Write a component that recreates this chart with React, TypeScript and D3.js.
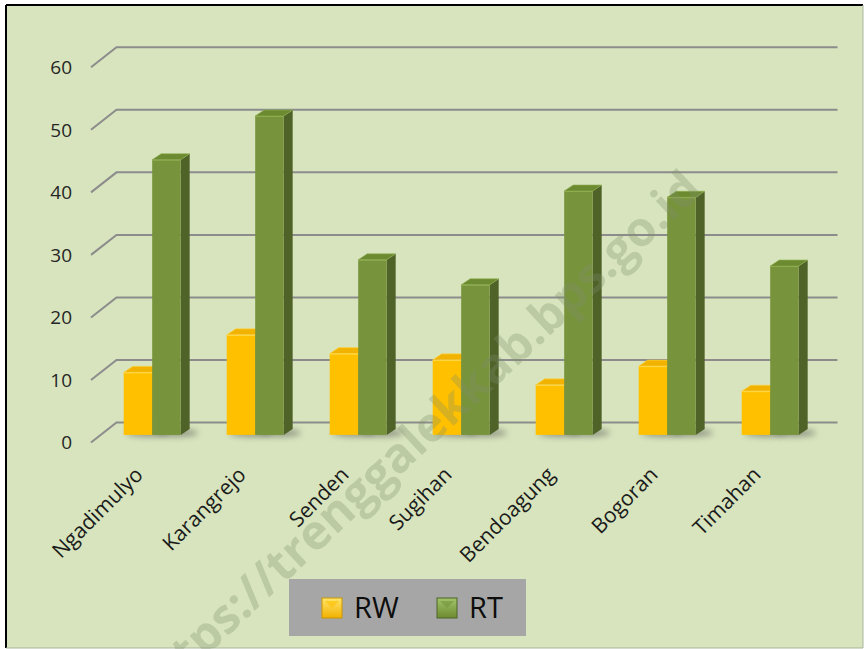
import React from "react";
import * as d3 from "d3";

const categories = ["Ngadimulyo", "Karangrejo", "Senden", "Sugihan", "Bendoagung", "Bogoran", "Timahan"];
const seriesNames = ["RW", "RT"];
const rwValues = [10, 16, 13, 12, 8, 11, 7];
const rtValues = [44, 51, 28, 24, 39, 38, 27];
const yTicks = [0, 10, 20, 30, 40, 50, 60];

const W = 864;
const H = 649;

// 3D frame geometry
const frontX0 = 91;
const frontX1 = 812;
const frontY0 = 442.5;
const frontYTop = 67.3;
const depthDx = 25.5;
const depthDy = -20;
const barDepthT = 0.38;
const barDx = 9;
const barDy = -6;

const palettes = [
  { front: "#FFC000", top: "#F2B300", side: "#C99700", edge: "#FFD84D" },
  { front: "#77933C", top: "#6C8A30", side: "#4F6228", edge: "#8FAE50" },
];

export default function App() {
  const y = d3.scaleLinear().domain([0, 60]).range([frontY0, frontYTop]);
  const offX = barDepthT * depthDx;
  const offY = barDepthT * depthDy;
  const x0 = d3
    .scaleBand<string>()
    .domain(categories)
    .range([frontX0 + offX, frontX1 + offX])
    .paddingInner(0.447)
    .paddingOuter(0.2235);
  const x1 = d3.scaleBand<string>().domain(seriesNames).range([0, x0.bandwidth()]).padding(0);
  const yBar = (v: number) => y(v) + offY;

  const data = categories.map((c, i) => ({ c, vals: [rwValues[i], rtValues[i]] }));

  return (
    <svg
      width={W}
      height={H}
      style={{ position: "fixed", left: 0, top: 0, display: "block" }}
      fontFamily="'Open Sans', 'DejaVu Sans', sans-serif"
    >
      <defs>
        <filter id="blur" x="-50%" y="-200%" width="200%" height="500%">
          <feGaussianBlur stdDeviation="3" />
        </filter>
        <linearGradient id="lgY" x1="0" y1="0" x2="0" y2="1">
          <stop offset="0" stopColor="#FFE66B" />
          <stop offset="1" stopColor="#F2B100" />
        </linearGradient>
        <linearGradient id="lgG" x1="0" y1="0" x2="0" y2="1">
          <stop offset="0" stopColor="#A3C56A" />
          <stop offset="1" stopColor="#6C8A30" />
        </linearGradient>
      </defs>
      <rect x={0} y={0} width={W} height={H} fill="#ffffff" />
      <rect x={6} y={5} width={857} height={643} fill="#D7E4BD" />
      <line x1={6} y1={5} x2={863} y2={5} stroke="#000" strokeWidth={2} />
      <line x1={6} y1={5} x2={6} y2={648} stroke="#000" strokeWidth={2} />
      <line x1={863} y1={5} x2={863} y2={648} stroke="#A9B59A" strokeWidth={1} />
      <line x1={6} y1={648} x2={863} y2={648} stroke="#A9B59A" strokeWidth={1} />

      {/* gridlines */}
      {yTicks.map((t) => (
        <g key={t}>
          <polyline
            points={`${frontX0},${y(t)} ${frontX0 + depthDx},${y(t) + depthDy} ${frontX1 + depthDx},${y(t) + depthDy}`}
            fill="none"
            stroke="#8C8C8C"
            strokeWidth={2}
          />
          <text x={72} y={y(t)} dy="0.36em" textAnchor="end" fontSize={19} fill="#262626">
            {t}
          </text>
        </g>
      ))}

      {/* shadows */}
      {data.map((d) =>
        d.vals.map((v, s) => {
          const bx = (x0(d.c) as number) + (x1(seriesNames[s]) as number);
          const bw = x1.bandwidth();
          return (
            <ellipse
              key={d.c + s}
              cx={bx + bw / 2 + 10}
              cy={yBar(0) - 2}
              rx={bw * 0.75}
              ry={3.5}
              fill="#4a4a4a"
              opacity={0.55}
              filter="url(#blur)"
            />
          );
        })
      )}

      {/* bars */}
      {data.map((d) => (
        <g key={d.c}>
          {d.vals.map((v, s) => {
            const p = palettes[s];
            const bx = (x0(d.c) as number) + (x1(seriesNames[s]) as number);
            const bw = x1.bandwidth();
            const yt = yBar(v);
            const yb = yBar(0);
            const top = `${bx},${yt} ${bx + barDx},${yt + barDy} ${bx + bw + barDx},${yt + barDy} ${bx + bw},${yt}`;
            const side = `${bx + bw},${yt} ${bx + bw + barDx},${yt + barDy} ${bx + bw + barDx},${yb + barDy} ${bx + bw},${yb}`;
            return (
              <g key={s}>
                <polygon points={side} fill={p.side} />
                <polygon points={top} fill={p.top} stroke={p.edge} strokeWidth={0.6} />
                <rect x={bx} y={yt} width={bw} height={yb - yt} fill={p.front} />
                <line x1={bx} y1={yt + 0.5} x2={bx + bw} y2={yt + 0.5} stroke={p.edge} strokeWidth={1} />
              </g>
            );
          })}
        </g>
      ))}

      {/* category labels */}
      {categories.map((c) => {
        const cx = (x0(c) as number) + x0.bandwidth() / 2;
        return (
          <text
            key={c}
            transform={`translate(${cx - 8},${476}) rotate(-45)`}
            textAnchor="end"
            fontSize={21}
            fill="#1a1a1a"
          >
            {c}
          </text>
        );
      })}

      {/* watermark */}
      <text
        transform="translate(704,192) rotate(-43)"
        textAnchor="end"
        fontSize={48}
        fontWeight={700}
        fill="#7f8f6a"
        opacity={0.3}
      >
        https://trenggalekkab.bps.go.id
      </text>

      {/* legend */}
      <rect x={289} y={579} width={237} height={57} fill="#A6A6A6" />
      {seriesNames.map((n, i) => {
        const lx = [322, 437][i];
        return (
          <g key={n}>
            <rect x={lx} y={598} width={20} height={20} fill={i === 0 ? "url(#lgY)" : "url(#lgG)"} stroke={palettes[i].side} strokeWidth={1} />
            <polygon points={`${lx + 3},${601} ${lx + 17},${601} ${lx + 10},${608}`} fill={palettes[i].front} opacity={0.6} />
            <text x={lx + 32} y={608} dy="0.36em" fontSize={29} fill="#0d0d0d">
              {n}
            </text>
          </g>
        );
      })}
    </svg>
  );
}
